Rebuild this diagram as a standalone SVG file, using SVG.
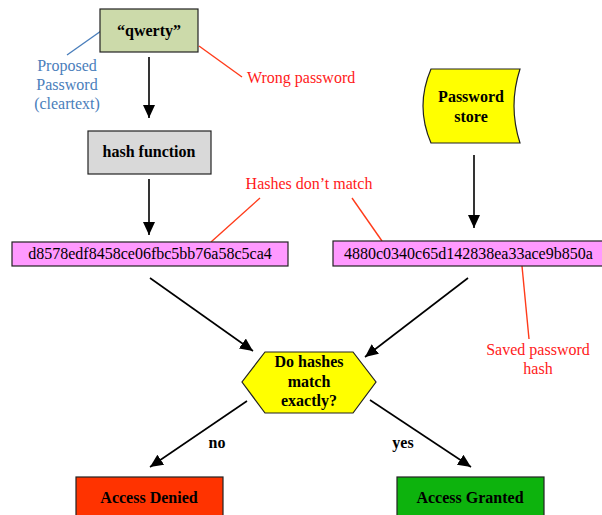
<svg xmlns="http://www.w3.org/2000/svg" width="602" height="515" viewBox="0 0 602 515">
<defs>
<style>
.box{stroke:#222;stroke-width:1.2}
.b{font-family:"Liberation Serif","Times New Roman",serif;font-size:16px;font-weight:bold;fill:#000;text-anchor:middle}
.r{font-family:"Liberation Serif","Times New Roman",serif;font-size:16px;fill:#000}
.red{font-family:"Liberation Serif","Times New Roman",serif;font-size:16px;fill:#ff1a1a;text-anchor:middle}
.blue{font-family:"Liberation Serif","Times New Roman",serif;font-size:16px;fill:#4a7ebb;text-anchor:middle}
.arr{stroke:#000;stroke-width:1.6;fill:none;marker-end:url(#ah)}
.rl{stroke:#ff3b1a;stroke-width:1.4;fill:none}
.bl{stroke:#4a7ebb;stroke-width:1.4;fill:none}
</style>
<marker id="ah" markerUnits="userSpaceOnUse" markerWidth="14" markerHeight="12" refX="13" refY="6" orient="auto">
<path d="M0,0 L13,6 L0,12 Z" fill="#000"/>
</marker>
</defs>
<rect width="602" height="515" fill="#fff"/>
<g id="connectors">
<line class="arr" x1="149" y1="57" x2="149" y2="118"/>
<line class="arr" x1="149" y1="179" x2="149" y2="235"/>
<line class="arr" x1="474" y1="155" x2="474" y2="228"/>
<line class="arr" x1="150" y1="278" x2="253" y2="351"/>
<line class="arr" x1="468" y1="278" x2="365" y2="357"/>
<line class="arr" x1="247" y1="401" x2="150" y2="467"/>
<line class="arr" x1="370" y1="400" x2="471" y2="467"/>
</g>
<g id="annotations">
<line class="bl" x1="101" y1="31" x2="67" y2="55"/>
<text class="blue" x="67" y="71">Proposed</text>
<text class="blue" x="67" y="90">Password</text>
<text class="blue" x="67" y="109">(cleartext)</text>
<line class="rl" x1="199" y1="46" x2="242" y2="77"/>
<text class="red" x="247" y="83" style="text-anchor:start">Wrong password</text>
<text class="red" x="309" y="189">Hashes don’t match</text>
<line class="rl" x1="211" y1="242" x2="260" y2="198"/>
<line class="rl" x1="352" y1="198" x2="382" y2="241"/>
<line class="rl" x1="522" y1="266" x2="529" y2="339"/>
<text class="red" x="538" y="355">Saved password</text>
<text class="red" x="538" y="374">hash</text>
<text class="b" x="217" y="448">no</text>
<text class="b" x="403" y="448">yes</text>
</g>
<g id="qwerty">
<rect class="box" x="100" y="9" width="98" height="43" fill="#ccdaaa"/>
<text class="b" x="149" y="36">“qwerty”</text>
</g>
<g id="hash-function">
<rect class="box" x="88" y="131" width="123" height="43" fill="#d9d9d9"/>
<text class="b" x="149" y="157">hash function</text>
</g>
<g id="password-store">
<path class="box" d="M431,69 L520,69 Q508,106 520,143 L431,143 Q415,106 431,69 Z" fill="#ffff00"/>
<text class="b" x="471" y="102">Password</text>
<text class="b" x="471" y="122">store</text>
</g>
<g id="hash-left">
<rect class="box" x="12" y="242" width="276" height="24" fill="#ff99ff"/>
<text class="r" x="150" y="259" style="text-anchor:middle">d8578edf8458ce06fbc5bb76a58c5ca4</text>
</g>
<g id="hash-right">
<rect class="box" x="333" y="241" width="275" height="25" fill="#ff99ff"/>
<text class="r" x="344" y="259">4880c0340c65d142838ea33ace9b850a</text>
</g>
<g id="decision">
<polygon class="box" points="265,352 353,352 376,382 353,413 265,413 242,382" fill="#ffff00"/>
<text class="b" x="309" y="367">Do hashes</text>
<text class="b" x="309" y="387">match</text>
<text class="b" x="309" y="406">exactly?</text>
</g>
<g id="access-denied">
<rect class="box" x="76" y="477" width="147" height="45" fill="#ff3300"/>
<text class="b" x="149" y="503">Access Denied</text>
</g>
<g id="access-granted">
<rect class="box" x="397" y="477" width="147" height="45" fill="#0db30d"/>
<text class="b" x="470" y="503">Access Granted</text>
</g>
</svg>
